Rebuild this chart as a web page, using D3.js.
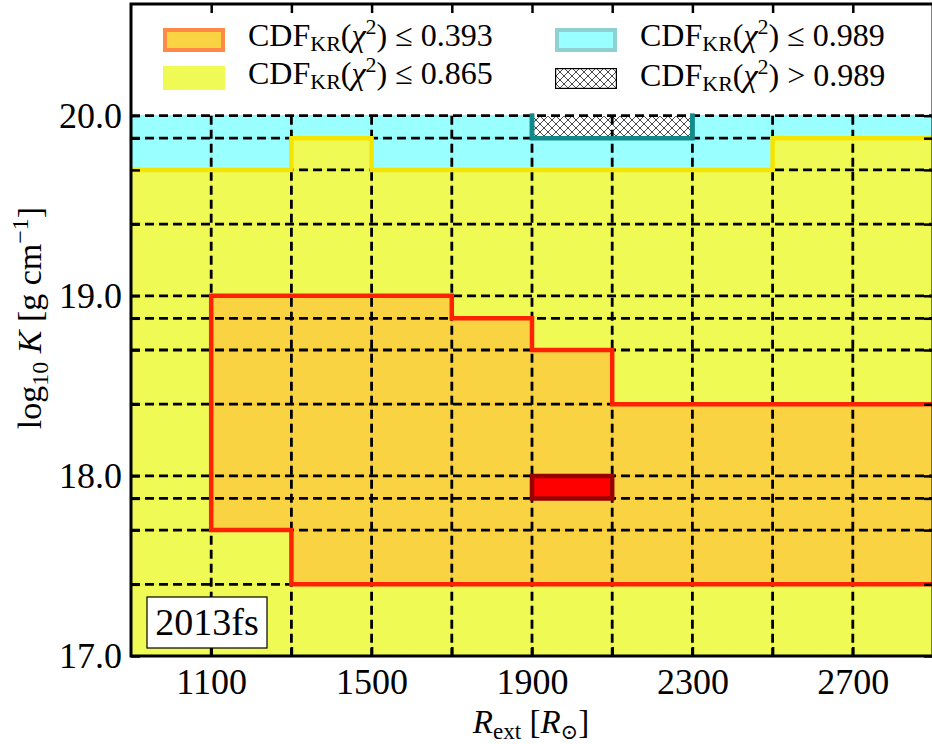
<!DOCTYPE html>
<html>
<head>
<meta charset="utf-8">
<script src="https://cdn.jsdelivr.net/npm/d3@7"></script>
<style>
  body { margin: 0; background: #fff; }
  svg text { font-family: "Liberation Serif", "DejaVu Serif", serif; fill: #000; }
</style>
</head>
<body>
<div id="grafico"></div>
<script>
// Bordes de las celdas en R_ext (R_sol)
const rEdges = [900, 1100, 1300, 1500, 1700, 1900, 2100, 2300, 2500, 2700, 2900];
// Bordes de las celdas en K (g/cm)
const kEdges = [1e17, 2.5e17, 5e17, 7.5e17, 1e18, 2.5e18, 5e18, 7.5e18, 1e19, 2.5e19, 5e19, 7.5e19, 1e20];

// Nivel de cada celda (filas de abajo a arriba, columnas de izquierda a derecha)
// 0 = mejor ajuste, 1 = CDF <= 0.393, 2 = <= 0.865, 3 = <= 0.989, 4 = > 0.989
const niveles = [
  [2, 2, 2, 2, 2, 2, 2, 2, 2, 2],
  [2, 2, 1, 1, 1, 1, 1, 1, 1, 1],
  [2, 1, 1, 1, 1, 1, 1, 1, 1, 1],
  [2, 1, 1, 1, 1, 0, 1, 1, 1, 1],
  [2, 1, 1, 1, 1, 1, 1, 1, 1, 1],
  [2, 1, 1, 1, 1, 1, 2, 2, 2, 2],
  [2, 1, 1, 1, 1, 2, 2, 2, 2, 2],
  [2, 1, 1, 1, 2, 2, 2, 2, 2, 2],
  [2, 2, 2, 2, 2, 2, 2, 2, 2, 2],
  [2, 2, 2, 2, 2, 2, 2, 2, 2, 2],
  [3, 3, 2, 3, 3, 3, 3, 3, 2, 2],
  [3, 3, 3, 3, 3, 4, 4, 3, 3, 3]
];

const xTicks = [1100, 1300, 1500, 1700, 1900, 2100, 2300, 2500, 2700];
const xLabels = [1100, 1500, 1900, 2300, 2700];
const yLabels = [17, 18, 19, 20];
const umbrales = ["0.393", "0.865", "0.989"];
const etiqueta = "2013fs";

const WIDTH = 932, HEIGHT = 744;
const colFill = ["#ff0000", "#f9d342", "#f0fa55", "#99ffff", "url(#rayado)"];
const colEdge = ["#ec0000", "#f4c430", "#e6f048", "#7ff7f7", "#ffffff"];
const colLinea = ["#990000", "#ff2200", "#f5e400", "#138a8a"];

const yEdges = kEdges.map(k => Math.log10(k));

const x = d3.scaleLinear().domain([900, 2900]).range([131, 933]);
const y = d3.scaleLinear().domain([17, 20.62]).range([656, 4]);

const svg = d3.select("#grafico").append("svg")
  .attr("width", WIDTH).attr("height", HEIGHT);

// patron de rayado cruzado
const defs = svg.append("defs");
const pat = defs.append("pattern").attr("id", "rayado")
  .attr("patternUnits", "userSpaceOnUse").attr("width", 8).attr("height", 8);
pat.append("rect").attr("width", 8).attr("height", 8).attr("fill", "#fff");
pat.append("path").attr("d", "M0,0L8,8M8,0L0,8M-1,7L1,9M7,-1L9,1")
  .attr("stroke", "#333").attr("stroke-width", 0.9);

defs.append("clipPath").attr("id", "recorte")
  .append("rect").attr("x", 131).attr("y", 4).attr("width", 802).attr("height", 652);

const plot = svg.append("g").attr("clip-path", "url(#recorte)");

// celdas
const celdas = [];
niveles.forEach((fila, i) => fila.forEach((n, j) => celdas.push({ i, j, n })));

plot.selectAll("rect.celda")
  .data(celdas)
  .enter()
  .append("rect")
  .attr("class", "celda")
  .attr("x", d => x(rEdges[d.j]))
  .attr("y", d => y(yEdges[d.i + 1]))
  .attr("width", d => x(rEdges[d.j + 1]) - x(rEdges[d.j]))
  .attr("height", d => y(yEdges[d.i]) - y(yEdges[d.i + 1]))
  .attr("fill", d => colFill[d.n])
  .attr("stroke", d => colEdge[d.n])
  .attr("stroke-width", 1);

// rejilla discontinua
plot.selectAll("line.hrej")
  .data(yEdges.slice(1))
  .enter()
  .append("line")
  .attr("x1", x(900)).attr("x2", x(2900))
  .attr("y1", d => y(d)).attr("y2", d => y(d))
  .attr("stroke", "#000").attr("stroke-width", 2.8)
  .attr("stroke-dasharray", "9,5");

plot.selectAll("line.vrej")
  .data(rEdges.slice(1, -1))
  .enter()
  .append("line")
  .attr("x1", d => x(d)).attr("x2", d => x(d))
  .attr("y1", y(20)).attr("y2", y(17))
  .attr("stroke", "#000").attr("stroke-width", 2.8)
  .attr("stroke-dasharray", "9,5");

// mejor ajuste encima de la rejilla
plot.selectAll("rect.mejor")
  .data(celdas.filter(d => d.n == 0))
  .enter()
  .append("rect")
  .attr("x", d => x(rEdges[d.j]))
  .attr("y", d => y(yEdges[d.i + 1]))
  .attr("width", d => x(rEdges[d.j + 1]) - x(rEdges[d.j]))
  .attr("height", d => y(yEdges[d.i]) - y(yEdges[d.i + 1]))
  .attr("fill", colFill[0]);

// contornos entre niveles
function contorno(k) {
  const p = d3.path();
  const nf = niveles.length, nc = niveles[0].length;
  for (let i = 0; i < nf; i++) {
    for (let j = 0; j < nc; j++) {
      const a = niveles[i][j] <= k;
      if (j + 1 < nc && a != (niveles[i][j + 1] <= k)) {
        p.moveTo(x(rEdges[j + 1]), y(yEdges[i]));
        p.lineTo(x(rEdges[j + 1]), y(yEdges[i + 1]));
      }
      if (i + 1 < nf && a != (niveles[i + 1][j] <= k)) {
        p.moveTo(x(rEdges[j]), y(yEdges[i + 1]));
        p.lineTo(x(rEdges[j + 1]), y(yEdges[i + 1]));
      }
    }
  }
  return p.toString();
}

[3, 2, 1, 0].forEach(k => {
  plot.append("path")
    .attr("d", contorno(k))
    .attr("fill", "none")
    .attr("stroke", colLinea[k])
    .attr("stroke-width", 4.5)
    .attr("stroke-linecap", "square");
});
// borde del rayado hasta el limite superior
[1900, 2300].forEach(v => {
  plot.append("line")
    .attr("x1", x(v)).attr("x2", x(v))
    .attr("y1", y(20) - 2).attr("y2", y(yEdges[11]))
    .attr("stroke", colLinea[3]).attr("stroke-width", 4.5);
});

// ejes
const ejeX = d3.axisBottom(x).tickValues(xTicks)
  .tickSizeInner(-9).tickSizeOuter(0).tickPadding(12)
  .tickFormat(d => xLabels.includes(d) ? d : "");
const ejeXs = d3.axisTop(x).tickValues(xTicks)
  .tickSizeInner(-9).tickSizeOuter(0).tickFormat("");
const ejeY = d3.axisLeft(y).tickValues(yEdges)
  .tickSizeInner(-9).tickSizeOuter(0).tickPadding(9)
  .tickFormat(d => yLabels.some(v => Math.abs(v - d) < 1e-9) ? d.toFixed(1) : "");
const ejeYd = d3.axisRight(y).tickValues(yEdges)
  .tickSizeInner(-9).tickSizeOuter(0).tickFormat("");

function estilo(g) {
  g.select(".domain").remove();
  g.selectAll(".tick line").attr("stroke", "#000").attr("stroke-width", 2.5);
  g.selectAll(".tick text").attr("font-size", 36)
    .style("font-family", "'Liberation Serif', serif");
}

svg.append("g").attr("transform", "translate(0,656)").call(ejeX).call(estilo);
svg.append("g").attr("transform", "translate(0,4)").call(ejeXs).call(estilo);
svg.append("g").attr("transform", "translate(131,0)").call(ejeY).call(estilo);
svg.append("g").attr("transform", "translate(933,0)").call(ejeYd).call(estilo);

svg.append("rect")
  .attr("x", 131).attr("y", 4).attr("width", 802).attr("height", 652)
  .attr("fill", "none").attr("stroke", "#000").attr("stroke-width", 3);

// titulos de ejes
const tx = svg.append("text")
  .attr("x", 531).attr("y", 733)
  .attr("text-anchor", "middle").attr("font-size", 33);
tx.append("tspan").attr("font-style", "italic").text("R");
tx.append("tspan").attr("font-size", 23).attr("dy", 6).text("ext");
tx.append("tspan").attr("dy", -6).text(" [");
tx.append("tspan").attr("font-style", "italic").text("R");
tx.append("tspan").attr("font-size", 21).attr("dy", 6).text("⊙");
tx.append("tspan").attr("dy", -6).text("]");

const ty = svg.append("text")
  .attr("transform", "translate(41,318) rotate(-90)")
  .attr("text-anchor", "middle").attr("font-size", 34);
ty.append("tspan").text("log");
ty.append("tspan").attr("font-size", 24).attr("dy", 7).text("10");
ty.append("tspan").attr("dy", -7).text(" ");
ty.append("tspan").attr("font-style", "italic").text("K");
ty.append("tspan").text(" [g cm");
ty.append("tspan").attr("font-size", 24).attr("dy", -13).text("−1");
ty.append("tspan").attr("dy", 13).text("]");

// leyenda
const leyenda = [
  { px: 163, py: 28, fill: colFill[1], edge: "#ff8a48", ew: 4, op: "≤", u: 0 },
  { px: 163, py: 66, fill: colFill[2], edge: "none", ew: 0, op: "≤", u: 1 },
  { px: 555, py: 28, fill: colFill[3], edge: "#8fd0d0", ew: 4, op: "≤", u: 2 },
  { px: 555, py: 68, fill: "url(#rayado)", edge: "#000", ew: 1.2, op: ">", u: 2 }
];

const gl = svg.append("g");
leyenda.forEach((e, idx) => {
  const alto = idx == 3 ? 21 : 24;
  gl.append("rect")
    .attr("x", e.px + e.ew / 2).attr("y", e.py + e.ew / 2)
    .attr("width", 62 - e.ew).attr("height", alto - e.ew)
    .attr("fill", e.fill).attr("stroke", e.edge).attr("stroke-width", e.ew);
  const t = gl.append("text")
    .attr("x", e.px + 85).attr("y", e.py + 18)
    .attr("font-size", 32);
  t.append("tspan").text("CDF");
  t.append("tspan").attr("font-size", 22).attr("dy", 5).text("KR");
  t.append("tspan").attr("dy", -5).text("(");
  t.append("tspan").attr("font-style", "italic").text("χ");
  t.append("tspan").attr("font-size", 22).attr("dy", -12).text("2");
  t.append("tspan").attr("dy", 12).text(") " + e.op + " " + umbrales[e.u]);
});

// recuadro con el nombre de la supernova
svg.append("rect")
  .attr("x", 147).attr("y", 597).attr("width", 120).attr("height", 51)
  .attr("fill", "#fff").attr("stroke", "#000").attr("stroke-width", 1.2);
svg.append("text")
  .attr("x", 207).attr("y", 635)
  .attr("text-anchor", "middle").attr("font-size", 38)
  .text(etiqueta);
</script>
</body>
</html>
